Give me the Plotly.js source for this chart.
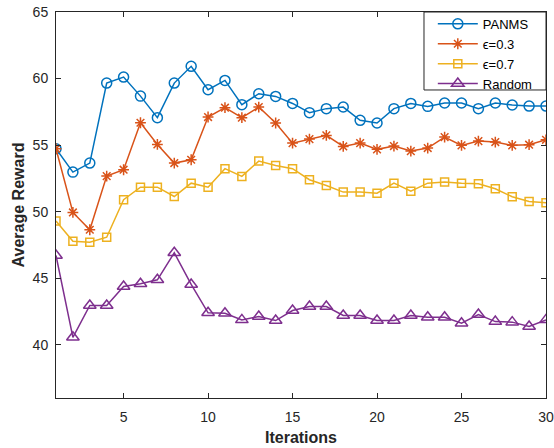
<!DOCTYPE html>
<html>
<head>
<meta charset="utf-8">
<script src="https://cdn.plot.ly/plotly-3.0.1.min.js"></script>
<style>
  html, body { margin: 0; padding: 0; background: #fff; }
  #chart { width: 554px; height: 448px; }
</style>
</head>
<body>
<div id="chart"></div>
<script>
// Average reward per iteration for each selection strategy
const iterations = Array.from({length: 30}, (_, i) => i + 1);

const panms = [54.73, 52.97, 53.65, 59.66, 60.11, 58.68, 57.06, 59.66, 60.92, 59.16,
               59.86, 58.04, 58.86, 58.66, 58.13, 57.44, 57.74, 57.86, 56.86, 56.66,
               57.74, 58.13, 57.91, 58.16, 58.16, 57.74, 58.16, 58.01, 57.93, 57.93];

const eps03 = [54.73, 49.94, 48.64, 52.67, 53.15, 56.68, 55.05, 53.65, 53.90, 57.11,
               57.81, 57.06, 57.86, 56.66, 55.15, 55.45, 55.73, 54.90, 55.15, 54.68,
               54.93, 54.55, 54.78, 55.60, 54.98, 55.30, 55.23, 54.98, 55.03, 55.40];

const eps07 = [49.30, 47.78, 47.71, 48.08, 50.90, 51.84, 51.84, 51.14, 52.14, 51.84,
               53.23, 52.65, 53.80, 53.47, 53.23, 52.40, 51.97, 51.47, 51.47, 51.39,
               52.14, 51.54, 52.14, 52.22, 52.14, 52.09, 51.72, 51.12, 50.77, 50.67];

const randomSel = [46.71, 40.56, 42.95, 42.95, 44.38, 44.58, 44.88, 46.91, 44.53, 42.40,
                   42.37, 41.87, 42.12, 41.82, 42.57, 42.88, 42.87, 42.20, 42.20, 41.82,
                   41.82, 42.20, 42.07, 42.07, 41.62, 42.27, 41.74, 41.70, 41.37, 41.87];

const seriesNames = ['PANMS', 'ϵ=0.3', 'ϵ=0.7', 'Random'];
const xTicks = [5, 10, 15, 20, 25, 30];
const yTicks = [40, 45, 50, 55, 60, 65];

const colors = ['#0072BD', '#D95319', '#EDB120', '#7E2F8E'];
const symbols = ['circle-open', 'asterisk-open', 'square-open', 'triangle-up-open'];
const sizes = [10, 9, 8, 11];
const values = [panms, eps03, eps07, randomSel];

const traces = values.map((ys, i) => ({
  x: iterations,
  y: ys,
  name: seriesNames[i],
  type: 'scatter',
  mode: 'lines+markers',
  line: {color: colors[i], width: 1.5},
  marker: {symbol: symbols[i], size: sizes[i], color: colors[i],
           line: {color: colors[i], width: 1.5}}
}));

const axisCommon = {
  showline: true,
  linecolor: '#262626',
  linewidth: 1,
  mirror: 'ticks',
  ticks: 'inside',
  ticklen: 5,
  tickwidth: 1,
  tickcolor: '#262626',
  showgrid: false,
  zeroline: false,
  tickfont: {family: 'Liberation Sans, Arial, sans-serif', size: 14, color: '#262626'}
};

const layout = {
  width: 554,
  height: 448,
  margin: {l: 56, r: 8, t: 12, b: 50},
  paper_bgcolor: '#ffffff',
  plot_bgcolor: '#ffffff',
  showlegend: true,
  xaxis: Object.assign({}, axisCommon, {
    range: [1, 30],
    tickvals: xTicks,
    ticktext: xTicks.map(String),
    ticklabelstandoff: 6,
    title: {text: 'Iterations', standoff: 8,
            font: {family: 'Liberation Sans, Arial, sans-serif', size: 16, color: '#262626', weight: 'bold'}}
  }),
  yaxis: Object.assign({}, axisCommon, {
    range: [36, 65],
    tickvals: yTicks,
    ticktext: yTicks.map(String),
    ticklabelstandoff: 4,
    title: {text: 'Average Reward', standoff: 4,
            font: {family: 'Liberation Sans, Arial, sans-serif', size: 16, color: '#262626', weight: 'bold'}}
  }),
  // framed white box behind the legend entries, tucked into the top-right corner
  shapes: [{
    type: 'rect', xref: 'paper', yref: 'paper',
    x0: 0.751, x1: 1.0, y0: 0.798, y1: 1.0,
    fillcolor: '#ffffff',
    line: {color: '#262626', width: 1},
    layer: 'above'
  }],
  legend: {
    x: 0.769, xanchor: 'left', xref: 'paper',
    y: 1.008, yanchor: 'top', yref: 'paper',
    bgcolor: 'rgba(0,0,0,0)',
    borderwidth: 0,
    font: {family: 'Liberation Sans, Arial, sans-serif', size: 13, color: '#000000'},
    tracegroupgap: 0,
    itemwidth: 40
  }
};

Plotly.newPlot('chart', traces, layout, {displayModeBar: false, staticPlot: true});
</script>
</body>
</html>
